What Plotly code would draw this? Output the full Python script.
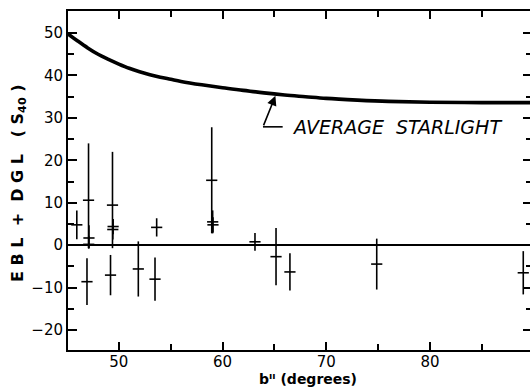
import plotly.graph_objects as go

# Average starlight curve
star_b = [45.1, 46, 47, 48, 49, 50, 51, 52, 53, 54, 55, 56, 58, 60, 62, 64, 66, 68, 70, 73, 76, 80, 85, 90]
star_v = [49.8, 48.2, 46.5, 45.0, 43.8, 42.7, 41.7, 40.9, 40.2, 39.6, 39.1, 38.6, 37.8, 37.1, 36.5, 35.9,
          35.4, 35.0, 34.6, 34.2, 33.9, 33.7, 33.6, 33.6]

# EBL + DGL measurements
obs_b = [45.95, 47.08, 47.12, 47.1, 46.93, 49.39, 49.42, 49.45, 49.2, 51.88, 53.49, 53.65,
         58.96, 59.05, 59.08, 63.13, 65.16, 66.5, 74.87, 89.0]
obs_v = [4.8, 10.6, 1.7, 0.2, -8.6, 9.45, 3.7, 4.4, -7.05, -5.6, -8.0, 4.2,
         15.3, 5.5, 4.8, 0.8, -2.7, -6.3, -4.45, -6.5]
err_plus = [3.4, 13.4, 3.0, 2.0, 5.5, 12.55, 2.35, 1.8, 4.75, 6.5, 5.1, 2.15,
            12.5, 2.7, 1.8, 2.1, 6.75, 4.4, 6.0, 5.1]
err_minus = [3.4, 11.3, 2.4, 1.0, 5.5, 10.15, 2.35, 1.8, 4.75, 6.5, 5.1, 2.15,
             12.5, 2.7, 1.8, 2.1, 6.75, 4.4, 6.0, 5.1]

x_range = [45.1, 89.65]
y_range = [-24.7, 55.2]

fig = go.Figure()

fig.add_trace(go.Scatter(
    x=star_b, y=star_v, mode="lines", line=dict(color="black", width=3.6, shape="spline"),
    showlegend=False, hoverinfo="skip"))

fig.add_trace(go.Scatter(
    x=obs_b, y=obs_v, mode="markers",
    marker=dict(symbol="line-ew", size=8, color="black", line=dict(color="black", width=1.6)),
    error_y=dict(type="data", array=err_plus, arrayminus=err_minus, symmetric=False,
                 color="black", thickness=1.6, width=0),
    showlegend=False))

# invisible trace to activate right-side tick axis
fig.add_trace(go.Scatter(x=[x_range[0]], y=[0], yaxis="y2", mode="markers",
                         marker=dict(opacity=0), showlegend=False, hoverinfo="skip"))

tickfont = dict(family="DejaVu Sans", size=15, color="black")

fig.update_layout(
    width=530, height=388,
    margin=dict(l=68, r=0, t=11, b=38),
    paper_bgcolor="white", plot_bgcolor="white",
    xaxis=dict(range=x_range, tickmode="array", tickvals=[50, 60, 70, 80],
               ticks="inside", ticklen=8, tickwidth=2, tickcolor="black",
               ticklabelstandoff=-3,
               minor=dict(tickmode="array", tickvals=[55, 65, 75, 85], ticks="inside", ticklen=6,
                          tickwidth=2, tickcolor="black"),
               showline=True, linecolor="black", linewidth=2, mirror="ticks",
               showgrid=False, zeroline=False, tickfont=tickfont),
    yaxis=dict(range=y_range, tickmode="array", tickvals=[-20, -10, 0, 10, 20, 30, 40, 50],
               ticks="inside", ticklen=9, tickwidth=2, tickcolor="black",
               minor=dict(tickmode="array", tickvals=[-15, -5, 5, 15, 25, 35, 45], ticks="inside",
                          ticklen=6, tickwidth=2, tickcolor="black"),
               showline=True, linecolor="black", linewidth=2,
               showgrid=False, zeroline=True, zerolinecolor="black", zerolinewidth=1.5,
               tickfont=tickfont),
    yaxis2=dict(range=y_range, overlaying="y", side="right", showline=False,
                tickmode="array", tickvals=[-20, -10, 0, 10, 20, 30, 40, 50],
                ticks="inside", ticklen=7, tickwidth=2, tickcolor="black", showticklabels=False,
                minor=dict(tickmode="array", tickvals=[-15, -5, 5, 15, 25, 35, 45], ticks="inside",
                           ticklen=4, tickwidth=2, tickcolor="black"),
                showgrid=False, zeroline=False),
)

# Arrow pointing at the curve plus the horizontal foot of the leader
fig.add_annotation(x=65.1, y=35.2, ax=63.9, ay=27.9, axref="x", ayref="y", xref="x", yref="y",
                   text="", showarrow=True, arrowhead=2, arrowsize=1.2, arrowwidth=1.6,
                   arrowcolor="black", standoff=0)
fig.add_shape(type="line", x0=63.9, y0=27.9, x1=65.8, y1=27.9, xref="x", yref="y",
              line=dict(color="black", width=1.6))
fig.add_annotation(x=76.8, y=27.9, xref="x", yref="y", text="<i>AVERAGE  STARLIGHT</i>",
                   showarrow=False, font=dict(family="DejaVu Sans", size=19, color="black"))

# Axis titles
fig.add_annotation(x=0.52, y=0.0, xref="paper", yref="paper", yshift=-29,
                   text="<b>bᴵᴵ (degrees)</b>", showarrow=False, yanchor="middle",
                   font=dict(family="DejaVu Sans", size=14, color="black"))
fig.add_annotation(x=-0.106, y=0.49, xref="paper", yref="paper", textangle=-90,
                   text="<b>E B L  +  D G L   ( S<sub>40</sub> )</b>", showarrow=False,
                   xanchor="center", yanchor="middle",
                   font=dict(family="DejaVu Sans", size=16, color="black"))

fig.write_html("out.html")
